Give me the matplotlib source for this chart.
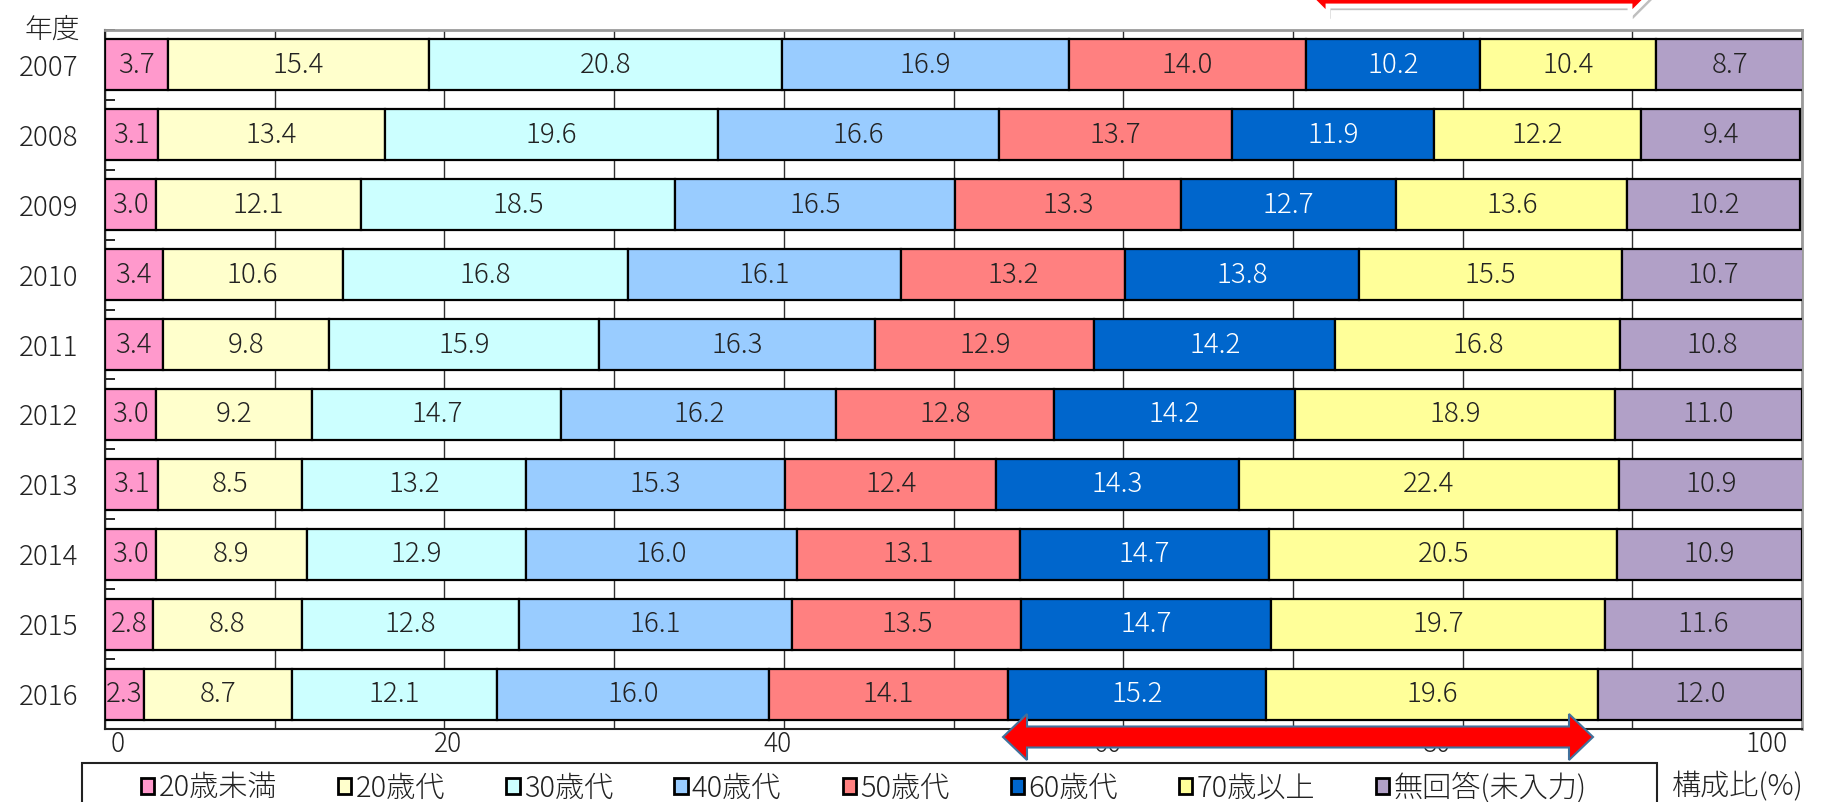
import numpy as np
import matplotlib
matplotlib.use("Agg")
from matplotlib import pyplot as plt
from matplotlib.patches import Patch, Polygon, Rectangle
from matplotlib.transforms import ScaledTranslation
from matplotlib import patheffects as pe

plt.rcParams["font.family"] = ["Noto Sans CJK JP", "DejaVu Sans"]
plt.rcParams["font.weight"] = "light"

W, H = 1829, 802

years = ["2007", "2008", "2009", "2010", "2011", "2012", "2013", "2014", "2015", "2016"]
groups = ["20歳未満", "20歳代", "30歳代", "40歳代", "50歳代", "60歳代", "70歳以上", "無回答(未入力)"]
x_ticks = [0, 20, 40, 60, 80, 100]

under20 = [3.7, 3.1, 3.0, 3.4, 3.4, 3.0, 3.1, 3.0, 2.8, 2.3]
age20s = [15.4, 13.4, 12.1, 10.6, 9.8, 9.2, 8.5, 8.9, 8.8, 8.7]
age30s = [20.8, 19.6, 18.5, 16.8, 15.9, 14.7, 13.2, 12.9, 12.8, 12.1]
age40s = [16.9, 16.6, 16.5, 16.1, 16.3, 16.2, 15.3, 16.0, 16.1, 16.0]
age50s = [14.0, 13.7, 13.3, 13.2, 12.9, 12.8, 12.4, 13.1, 13.5, 14.1]
age60s = [10.2, 11.9, 12.7, 13.8, 14.2, 14.2, 14.3, 14.7, 14.7, 15.2]
over70 = [10.4, 12.2, 13.6, 15.5, 16.8, 18.9, 22.4, 20.5, 19.7, 19.6]
no_answer = [8.7, 9.4, 10.2, 10.7, 10.8, 11.0, 10.9, 10.9, 11.6, 12.0]

series = [under20, age20s, age30s, age40s, age50s, age60s, over70, no_answer]
colors = ["#FF99CC", "#FFFFCC", "#CCFFFF", "#99CCFF", "#FF8080", "#0066CC", "#FFFF99", "#B1A0C7"]
text_colors = ["#222222"] * 5 + ["white"] + ["#222222"] * 2


def px(x, y):
    # pixel position (origin top-left) -> figure fraction
    return (x / W, 1 - y / H)


def double_arrow(xl, xr, yc, hl, hh, sh):
    pts = [(xl, yc), (xl + hl, yc - hh), (xl + hl, yc - sh), (xr - hl, yc - sh),
           (xr - hl, yc - hh), (xr, yc), (xr - hl, yc + hh), (xr - hl, yc + sh),
           (xl + hl, yc + sh), (xl + hl, yc + hh)]
    return [px(x, y) for x, y in pts]


fig = plt.figure(figsize=(W / 100, H / 100), dpi=100)
x0, y0 = px(105, 729)
x1, y1 = px(1802, 30)
ax = fig.add_axes([x0, y0, x1 - x0, y1 - y0])

y = np.arange(len(years))
left = np.zeros(len(years))
for vals, col, tcol in zip(series, colors, text_colors):
    vals = np.array(vals)
    ax.barh(y, vals, left=left, height=0.73, color=col, edgecolor="black",
            linewidth=1.6, zorder=3)
    for yi, (l, v) in enumerate(zip(left, vals)):
        ax.text(l + v / 2, yi, f"{v:.1f}", ha="center", va="center",
                fontsize=20, color=tcol, zorder=4)
    left += vals

ax.set_xlim(0, 100)
ax.set_ylim(len(years) - 0.5, -0.5)
ax.set_xticks(x_ticks)
ax.set_xticklabels([])
ax.set_xticks(np.arange(0, 101, 10), minor=True)
ax.set_yticks(y)
ax.set_yticklabels(years)
ax.set_yticks(np.arange(-0.5, len(years), 1), minor=True)
ax.tick_params(axis="x", which="both", length=0)
ax.tick_params(axis="y", which="major", length=0, labelsize=20, pad=19, colors="#222222")
ax.tick_params(axis="y", which="minor", length=7, direction="in", width=1.2)
ax.grid(axis="x", which="both", color="#303030", linewidth=1.0, zorder=1)
ax.set_axisbelow(True)
for side in ["top", "right"]:
    ax.spines[side].set_color("#9A9A9A")
    ax.spines[side].set_linewidth(2)
for side in ["left", "bottom"]:
    ax.spines[side].set_color("#222222")
    ax.spines[side].set_linewidth(1.5)

# x labels sit slightly squeezed toward the middle
for v in x_ticks:
    shift = ScaledTranslation((13 - 0.48 * v) / 100, 0, fig.dpi_scale_trans)
    ax.text(v, -0.021, str(v), transform=ax.get_xaxis_transform() + shift,
            ha="center", va="center", fontsize=19, color="#222222")

fig.text(*px(52, 30), "年度", ha="center", va="center", fontsize=20, color="#222222")
fig.text(*px(1672, 787), "構成比(%)", ha="left", va="center", fontsize=21, color="#222222")

# legend box runs past the lower edge
lx, ly = px(82, 806)
rx, ry = px(1657, 763)
fig.add_artist(Rectangle((lx, ly), rx - lx, ry - ly, transform=fig.transFigure,
                         facecolor="white", edgecolor="#222222", linewidth=1.5))
handles = [Patch(facecolor=c, edgecolor="black", linewidth=2) for c in colors]
fig.legend(handles, groups, ncol=8, loc="center left", bbox_to_anchor=px(141, 788),
           frameon=False, fontsize=21, handlelength=0.45, handleheight=0.45,
           handletextpad=0.15, columnspacing=2.1, borderpad=0, borderaxespad=0,
           labelcolor="#222222")

# red range markers
shadow = [pe.SimplePatchShadow(offset=(2, -3), shadow_rgbFace="gray", alpha=0.5), pe.Normal()]
top = Polygon(double_arrow(1303, 1655, -10, 25, 25, 16), closed=True,
              transform=fig.transFigure, facecolor="#FF0000", edgecolor="white",
              linewidth=3.5, zorder=5)
top.set_path_effects(shadow)
fig.add_artist(top)
fig.add_artist(Polygon(double_arrow(1003, 1593, 737, 24, 23, 10.5), closed=True,
                       transform=fig.transFigure, facecolor="#FF0000",
                       edgecolor="#41719C", linewidth=1.5, zorder=5))

fig.savefig("out.png", dpi=100)
plt.close()
